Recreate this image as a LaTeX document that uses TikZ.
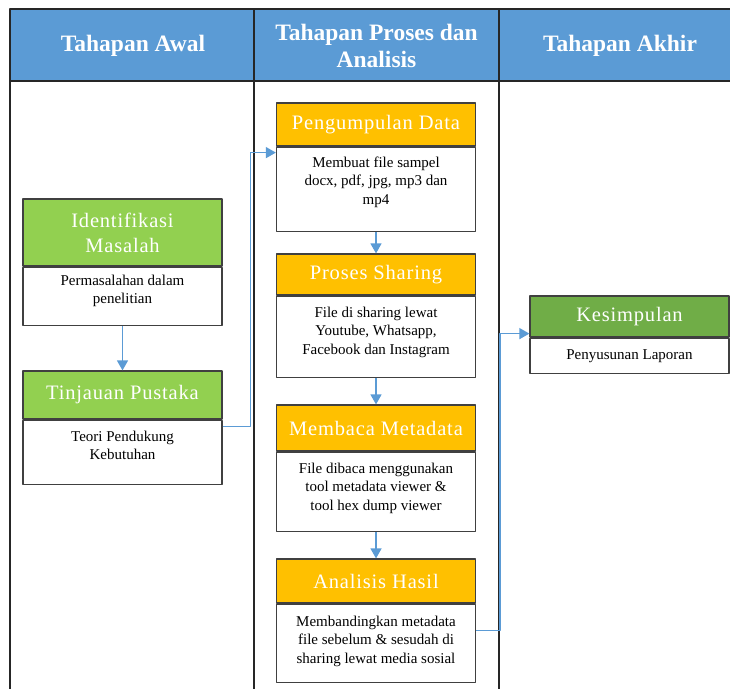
\documentclass[tikz,border=0pt]{standalone}
\usepackage{fontspec}
\setmainfont{Liberation Serif}
\newfontfamily\headfont[LetterSpace=4]{Liberation Serif}
\usetikzlibrary{positioning,arrows.meta}
\definecolor{headblue}{HTML}{5B9BD5}
\definecolor{litegreen}{HTML}{92D050}
\definecolor{darkgreen}{HTML}{70AD47}
\definecolor{amber}{HTML}{FFC000}
\definecolor{boxline}{HTML}{404040}
\definecolor{flowblue}{HTML}{5B9BD5}
\begin{document}
\begin{tikzpicture}[x=1pt,y=-1pt,line join=round,
  colhead/.style={text=white,align=center,font=\fontsize{23.5}{27}\selectfont\bfseries},
  stephead/.style={draw=boxline,line width=1.2pt,text=white,minimum width=199pt,inner sep=0pt,
    align=center,font=\headfont\fontsize{20.5}{25}\selectfont},
  stepbody/.style 2 args={draw=boxline,line width=1.2pt,fill=white,minimum width=199pt,inner sep=0pt,
    align=center,font=\fontsize{15}{18.5}\selectfont,text height=#1,text depth=#2},
  flow/.style={draw=flowblue,line width=1.4pt,-{Triangle[length=10pt,width=11pt]}}]
  \useasboundingbox (0,0) rectangle (730,689);
  % table
  \fill[headblue] (10,9) rectangle (730,81);
  \draw[line width=1.6pt,black!85] (730,9) -- (10,9) -- (10,689);
  \draw[line width=1.6pt,black!85] (10,81) -- (730,81);
  \draw[line width=1.6pt,black!85] (254,9) -- (254,689);
  \draw[line width=1.6pt,black!85] (499,9) -- (499,689);
  \node[colhead] (awal) at (133,46) {Tahapan Awal};
  \node[colhead] (proses) at (376.5,46) {Tahapan Proses dan\\Analisis};
  \node[colhead] (akhir) at (620,46) {Tahapan Akhir};
  % tahapan awal
  \node[stephead,fill=litegreen,minimum height=67pt] (im) at (122.5,232.5) {Identifikasi\\Masalah};
  \node[stepbody={36.5pt}{21.5pt},below=0pt of im] (imb) {Permasalahan dalam\\penelitian};
  \node[stephead,fill=litegreen,minimum height=48pt] (tp) at (122.5,395) {Tinjauan Pustaka};
  \node[stepbody={39.5pt}{24.5pt},below=0pt of tp] (tpb) {Teori Pendukung\\Kebutuhan};
  % tahapan proses dan analisis
  \node[stephead,fill=amber,minimum height=43pt] (pd) at (376,124.5) {Pengumpulan Data};
  \node[stepbody={57pt}{27pt},below=0pt of pd] (pdb) {Membuat file sampel\\docx, pdf, jpg, mp3 dan\\mp4};
  \node[stephead,fill=amber,minimum height=41pt] (ps) at (376,274.5) {Proses Sharing};
  \node[stepbody={58pt}{23pt},below=0pt of ps] (psb) {File di sharing lewat\\Youtube, Whatsapp,\\Facebook dan Instagram};
  \node[stephead,fill=amber,minimum height=46pt] (mm) at (376,428) {Membaca Metadata};
  \node[stepbody={58pt}{21pt},below=0pt of mm] (mmb) {File dibaca menggunakan\\tool metadata viewer \&\\tool hex dump viewer};
  \node[stephead,fill=amber,minimum height=44pt] (ah) at (376,581) {Analisis Hasil};
  \node[stepbody={59pt}{19pt},below=0pt of ah] (ahb) {Membandingkan metadata\\file sebelum \& sesudah di\\sharing lewat media sosial};
  % tahapan akhir
  \node[stephead,fill=darkgreen,minimum height=41pt] (ks) at (629.5,316.5) {Kesimpulan};
  \node[stepbody={21pt}{14pt},below=0pt of ks] (ksb) {Penyusunan Laporan};
  % alur
  \draw[flow] (imb) -- (tp);
  \draw[flow] ([yshift=-7pt]tpb.north east) -- ++(28pt,0) |- ([yshift=-6pt]pdb.north west);
  \draw[flow] (pdb) -- (ps);
  \draw[flow] (psb) -- (mm);
  \draw[flow] (mmb) -- (ah);
  \draw[flow] ([yshift=-27pt]ahb.north east) -- ++(24pt,0) |- ([yshift=4pt]ksb.north west);
\end{tikzpicture}
\end{document}
